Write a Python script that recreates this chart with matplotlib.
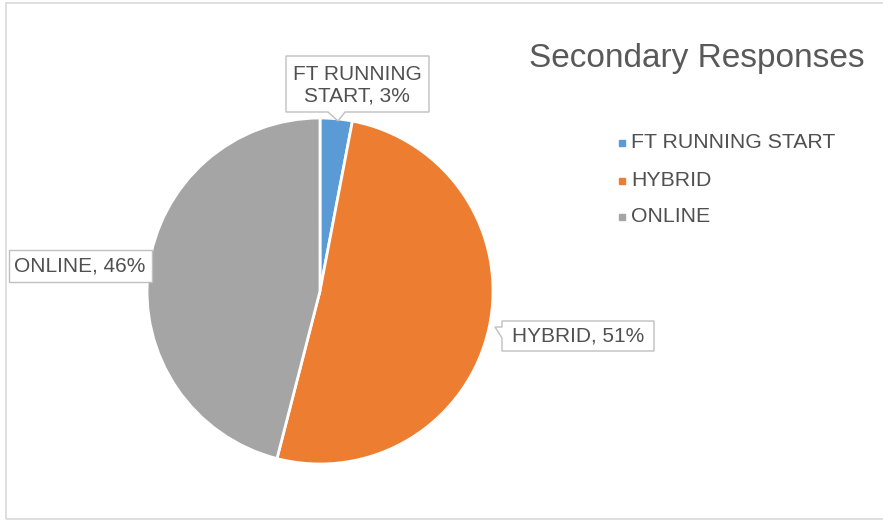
import matplotlib
matplotlib.use("Agg")
import matplotlib.pyplot as plt
from matplotlib.patches import Polygon, Rectangle

categories = ["FT RUNNING START", "HYBRID", "ONLINE"]
values = [3, 51, 46]
colors = ["#5B9BD5", "#ED7D31", "#A5A5A5"]
title = "Secondary Responses"

W, H = 883, 521
fig = plt.figure(figsize=(W / 100, H / 100), dpi=100)
ax = fig.add_axes([0, 0, 1, 1])

def Y(py):
    return H - py

font = "Liberation Sans"
txtc = "#505050"

# outer frame
ax.add_patch(Rectangle((6, Y(519)), W - 6 + 5, 516, fill=False, ec="#D9D9D9", lw=1.2))

cx, cy, r = 320, 291, 173
ax.pie(values, colors=colors, startangle=90, counterclock=False,
       center=(cx, Y(cy)), radius=r, frame=True,
       wedgeprops=dict(edgecolor="white", linewidth=2))
ax.set_xlim(0, W)
ax.set_ylim(0, H)
ax.set_aspect("equal")
ax.axis("off")

ax.text(697, Y(58), title, fontsize=24, color="#595959", family=font,
        ha="center", va="center")

# legend
leg_y = [143, 181, 217]
for cat, col, ly in zip(categories, colors, leg_y):
    ax.plot([622], [Y(ly)], marker="s", ms=5, color=col, ls="none")
    ax.text(631, Y(ly), cat, fontsize=15.3, color=txtc, family=font,
            ha="left", va="center")

def callout(pts):
    ax.add_patch(Polygon([(x, Y(y)) for x, y in pts], closed=True,
                         fc="white", ec="#BFBFBF", lw=1, zorder=5))

lab_fs = 15

# FT label
callout([(286, 56), (429, 56), (429, 112), (345, 112), (338, 121), (328, 112), (286, 112)])
ax.text(357, Y(85), "FT RUNNING\nSTART, " + f"{values[0]}%",
        fontsize=lab_fs, color=txtc, family=font, ha="center", va="center",
        linespacing=1.2, zorder=6)

# ONLINE label
callout([(9, 250), (152, 250), (152, 282), (9, 282)])
ax.text(80, Y(266), f"{categories[2]}, {values[2]}%", fontsize=lab_fs, color=txtc,
        family=font, ha="center", va="center", zorder=6)

# HYBRID label
callout([(502, 321), (654, 321), (654, 351), (502, 351), (502, 338), (495, 327), (502, 327)])
ax.text(578, Y(336), f"{categories[1]}, {values[1]}%", fontsize=lab_fs, color=txtc,
        family=font, ha="center", va="center", zorder=6)

fig.savefig("out.png", dpi=100, facecolor="white")
